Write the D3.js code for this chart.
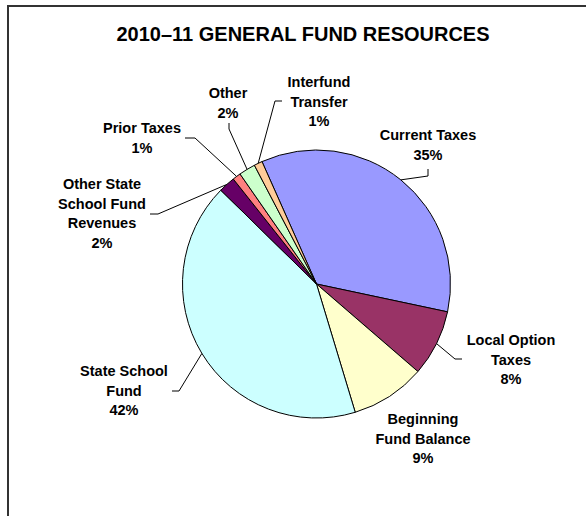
<!DOCTYPE html>
<html>
<head>
<meta charset="utf-8">
<script src="https://cdn.jsdelivr.net/npm/d3@7"></script>
<style>
  html, body { margin: 0; padding: 0; background: #fff; }
  svg { display: block; }
  text { font-family: "Liberation Sans", Arial, sans-serif; font-weight: bold; fill: #000; }
</style>
</head>
<body>
<script>
// 2010–11 general fund resources, share of total (%)
const categories = [
  "Current Taxes",
  "Local Option Taxes",
  "Beginning Fund Balance",
  "State School Fund",
  "Other State School Fund Revenues",
  "Prior Taxes",
  "Other",
  "Interfund Transfer"
];
const shares = [35, 8, 9, 42, 2, 1, 2, 1];
// how each category name is broken over lines in its label
const labelLines = [
  ["Current Taxes"],
  ["Local Option", "Taxes"],
  ["Beginning", "Fund Balance"],
  ["State School", "Fund"],
  ["Other State", "School Fund", "Revenues"],
  ["Prior Taxes"],
  ["Other"],
  ["Interfund", "Transfer"]
];
const sliceColors = ["#9999FF", "#993366", "#FFFFCC", "#CCFFFF", "#660066", "#FF8080", "#CCFFCC", "#FFCC99"];
const title = "2010\u201311 GENERAL FUND RESOURCES";

// label placement: text centre x / first baseline y, and leader elbow points
const labelLayout = [
  { x: 428, y: 140, leader: [[428, 176], [428, 169]] },
  { x: 511, y: 345, leader: [[455, 359], [462, 359]] },
  { x: 423, y: 424, leader: null },
  { x: 124, y: 376, leader: [[179, 391], [172, 391]] },
  { x: 102, y: 189, leader: [[158, 214], [150, 214]] },
  { x: 142, y: 133, leader: [[195, 138], [185, 138]] },
  { x: 228, y: 98,  leader: [[229, 129], [229, 123]] },
  { x: 319, y: 87,  leader: [[275, 101], [282, 101]] }
];

const W = 586, H = 516;
const cx = 316.5, cy = 284, R = 134;
const lineGap = 19.5;
const startDeg = -24;

const svg = d3.select("body").append("svg")
  .attr("width", W).attr("height", H);

// chart frame (open at right and bottom edges of the view)
svg.append("path")
  .attr("d", `M8,${H} L8,6 L${W},6`)
  .attr("fill", "none")
  .attr("stroke", "#333")
  .attr("stroke-width", 2);

svg.append("text")
  .attr("x", 303).attr("y", 41)
  .attr("text-anchor", "middle")
  .style("font-size", "20px")
  .text(title);

const data = categories.map((c, i) => ({ name: c, value: shares[i], i }));

const pie = d3.pie()
  .sort(null)
  .value(d => d.value)
  .startAngle(startDeg * Math.PI / 180)
  .endAngle((startDeg + 360) * Math.PI / 180);

const arcs = pie(data);
const arc = d3.arc().innerRadius(0).outerRadius(R);

const g = svg.append("g").attr("transform", `translate(${cx},${cy})`);

g.selectAll("path.slice")
  .data(arcs)
  .join("path")
  .attr("class", "slice")
  .attr("d", arc)
  .attr("fill", d => sliceColors[d.data.i])
  .attr("stroke", "#000")
  .attr("stroke-width", 1)
  .attr("stroke-linejoin", "round");

// leader lines from the slice's mid-angle on the rim to the label
const line = d3.line();
arcs.forEach(a => {
  const lay = labelLayout[a.data.i];
  if (!lay.leader) return;
  const mid = (a.startAngle + a.endAngle) / 2;
  const p0 = [cx + R * Math.sin(mid), cy - R * Math.cos(mid)];
  svg.append("path")
    .attr("d", line([p0, ...lay.leader]))
    .attr("fill", "none")
    .attr("stroke", "#000")
    .attr("stroke-width", 1);
});

// labels: category name lines followed by the percentage
arcs.forEach(a => {
  const lay = labelLayout[a.data.i];
  const lines = labelLines[a.data.i].concat([a.data.value + "%"]);
  const t = svg.append("text")
    .attr("text-anchor", "middle")
    .style("font-size", "14.5px");
  lines.forEach((s, k) => {
    t.append("tspan")
      .attr("x", lay.x)
      .attr("y", lay.y + k * lineGap)
      .text(s);
  });
});
</script>
</body>
</html>
